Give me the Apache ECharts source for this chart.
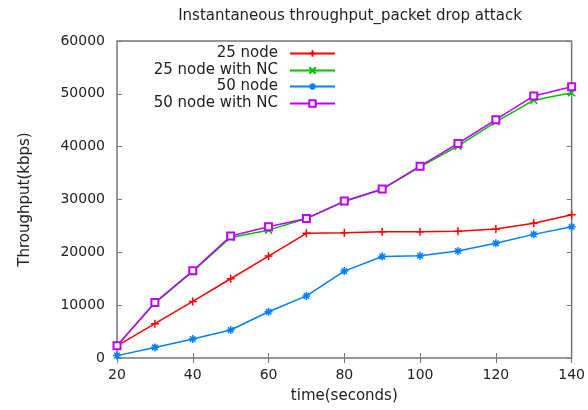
<!DOCTYPE html>
<html>
<head>
<meta charset="utf-8">
<script src="https://cdn.jsdelivr.net/npm/echarts@6/dist/echarts.min.js"></script>
<style>html,body{margin:0;padding:0;background:#fff}#c{width:588px;height:410px}</style>
</head>
<body>
<div id="c"></div>
<script>
const times = [20, 30, 40, 50, 60, 70, 80, 90, 100, 110, 120, 130, 140];
const node25 = [2300, 6500, 10700, 15000, 19300, 23600, 23700, 23900, 23900, 24000, 24400, 25500, 27100];
const node25NC = [2300, 10400, 16400, 22800, 24200, 26400, 29600, 31900, 36200, 40100, 44700, 48800, 50200];
const node50 = [450, 2000, 3600, 5300, 8750, 11750, 16450, 19200, 19350, 20250, 21700, 23400, 24850];
const node50NC = [2300, 10500, 16500, 23100, 24850, 26400, 29700, 32000, 36300, 40600, 45100, 49600, 51350];
const seriesNames = ['25 node', '25 node with NC', '50 node', '50 node with NC'];
const yTicks = [0, 10000, 20000, 30000, 40000, 50000, 60000];

const colors = ['#ff0000', '#00c000', '#0080ff', '#c000ff'];
const symPlus = 'path://M0,5 L10,5 M5,0 L5,10';
const symX = 'path://M1,1 L9,9 M1,9 L9,1';
const symStar = 'path://M0,5 L10,5 M5,0 L5,10 M1.5,1.5 L8.5,8.5 M1.5,8.5 L8.5,1.5';
const symbols = [symPlus, symX, symStar, 'emptyRect'];
const sizes = [8, 7, 8, 7];
const datas = [node25, node25NC, node50, node50NC];
const font = 'DejaVu Sans';

const series = datas.map((d, i) => ({
  name: seriesNames[i],
  type: 'line',
  data: times.map((t, j) => [t, d[j]]),
  symbol: symbols[i],
  symbolSize: sizes[i],
  showAllSymbol: true,
  z: 2 + i,
  lineStyle: { color: colors[i], width: 1.5 },
  itemStyle: { color: colors[i], borderColor: colors[i], borderWidth: 1.5 },
  emphasis: { disabled: true },
  animation: false
}));

const legendTops = [46, 63, 79, 96];
const legends = seriesNames.map((n, i) => ({
  data: [n],
  right: 252,
  top: legendTops[i],
  align: 'right',
  itemWidth: 45,
  itemHeight: 8,
  itemGap: 0,
  padding: 0,
  selectedMode: false,
  textStyle: { fontFamily: font, fontSize: 15, color: '#222', padding: [0, 7, 0, 0] }
}));

const chart = echarts.init(document.getElementById('c'), null, { renderer: 'canvas' });
chart.setOption({
  animation: false,
  backgroundColor: '#fff',
  title: {
    text: 'Instantaneous throughput_packet drop attack',
    left: 345,
    textAlign: 'center',
    top: 4,
    textStyle: { fontFamily: font, fontSize: 15, fontWeight: 'normal', color: '#222' }
  },
  legend: legends,
  grid: { left: 117, right: 13, top: 41, bottom: 52, show: true, borderColor: '#777', borderWidth: 1.5 },
  xAxis: [{
    type: 'value', min: 20, max: 140, interval: 20,
    name: 'time(seconds)', nameLocation: 'middle', nameGap: 31,
    nameTextStyle: { fontFamily: font, fontSize: 15, color: '#222' },
    axisLine: { show: false },
    axisTick: { show: true, inside: true, length: 5, lineStyle: { color: '#777' } },
    axisLabel: { fontFamily: font, fontSize: 14, color: '#222', margin: 10, formatter: v => String(v) },
    splitLine: { show: false }
  }, {
    type: 'value', min: 20, max: 140, interval: 20, position: 'top',
    axisLine: { show: false },
    axisTick: { show: true, inside: true, length: 5, lineStyle: { color: '#777' } },
    axisLabel: { show: false },
    splitLine: { show: false }
  }],
  yAxis: [{
    type: 'value', min: yTicks[0], max: yTicks[yTicks.length - 1], interval: 10000,
    name: 'Throughput(kbps)', nameLocation: 'middle', nameGap: 84, nameRotate: 90,
    nameTextStyle: { fontFamily: font, fontSize: 15, color: '#222' },
    axisLine: { show: false },
    axisTick: { show: true, inside: true, length: 5, lineStyle: { color: '#777' } },
    axisLabel: { fontFamily: font, fontSize: 14, color: '#222', margin: 12, formatter: v => String(v) },
    splitLine: { show: false }
  }, {
    type: 'value', min: yTicks[0], max: yTicks[yTicks.length - 1], interval: 10000, position: 'right',
    axisLine: { show: false },
    axisTick: { show: true, inside: true, length: 5, lineStyle: { color: '#777' } },
    axisLabel: { show: false },
    splitLine: { show: false }
  }],
  series: series
});
</script>
</body>
</html>
